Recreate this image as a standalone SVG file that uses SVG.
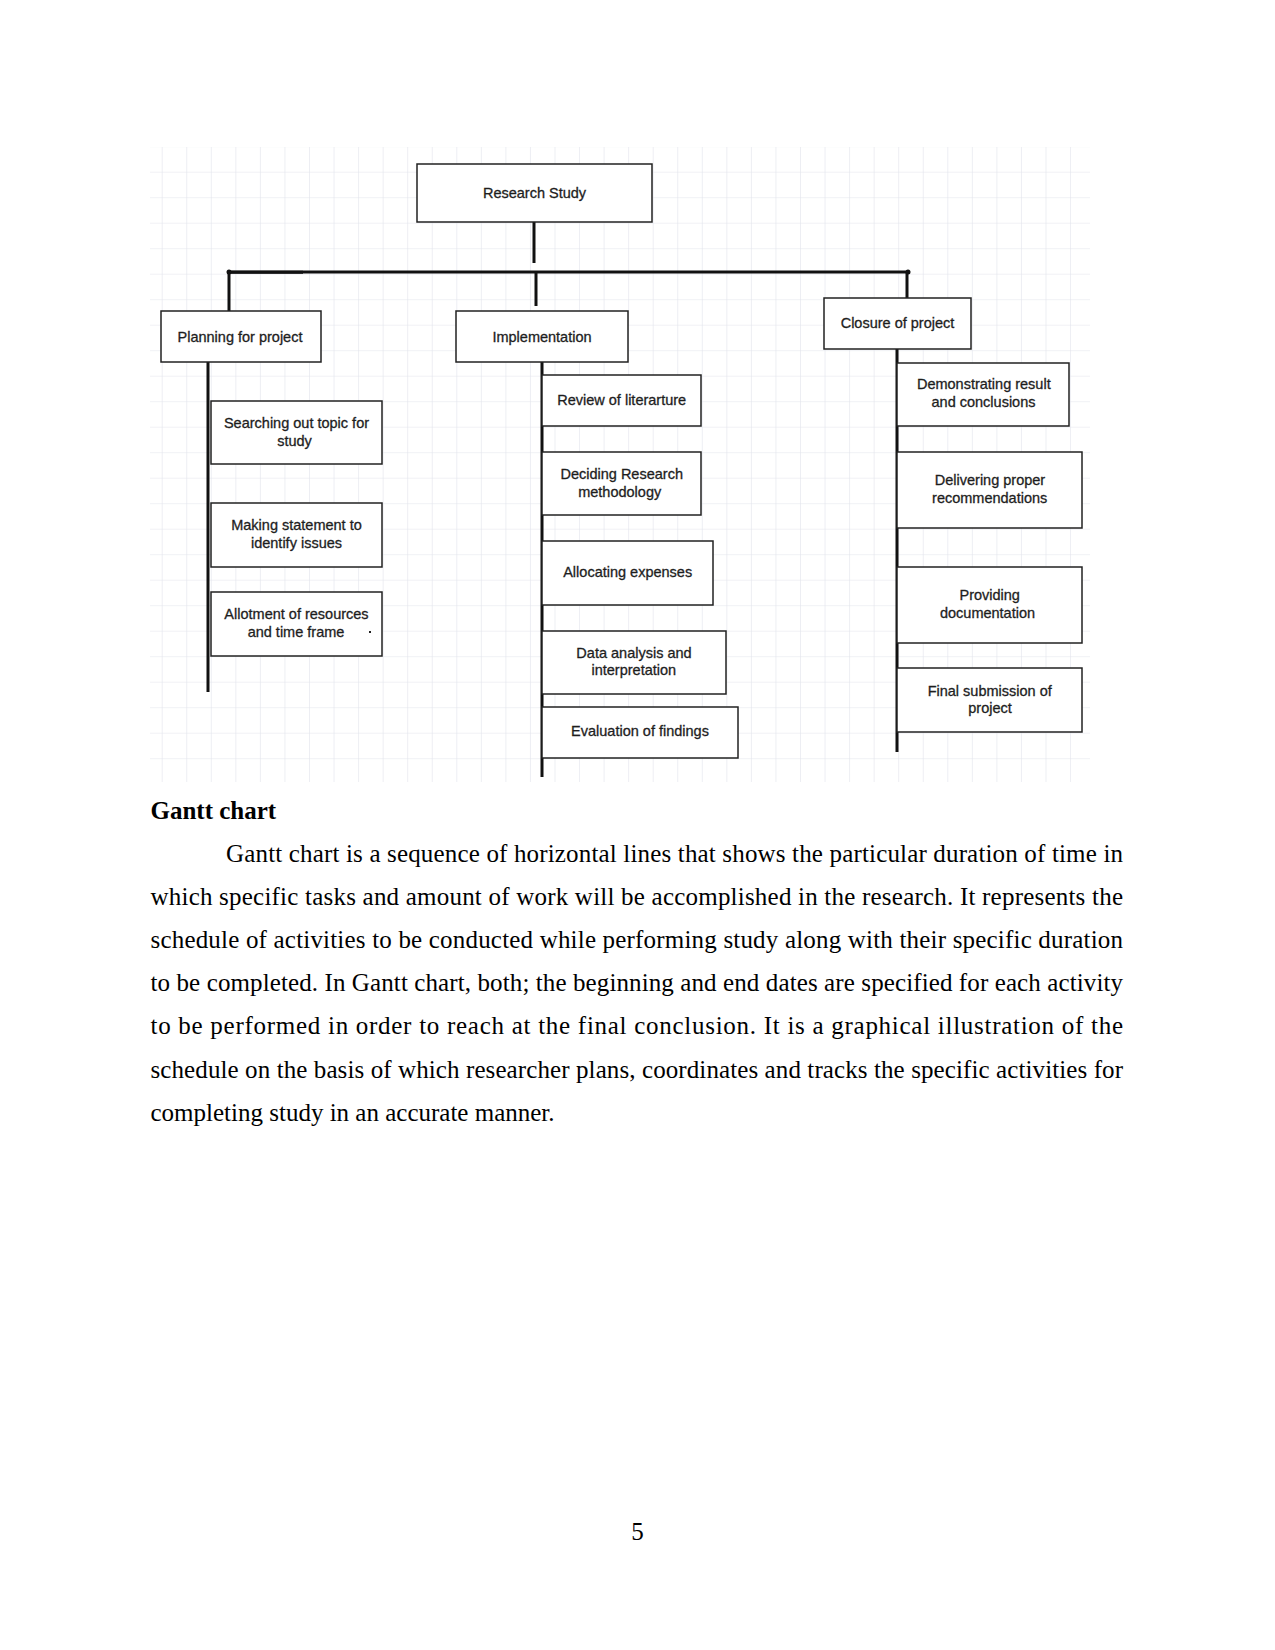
<svg xmlns="http://www.w3.org/2000/svg" width="1275" height="1650" viewBox="0 0 1275 1650">
  <style>
    .box { fill: #ffffff; stroke: #222222; stroke-width: 1.5; }
    .lbl { font-family: "Liberation Sans", Arial, sans-serif; font-size: 14.5px; fill: #1e1e1e; stroke: #1e1e1e; stroke-width: 0.3; text-anchor: middle; }
    .wire { stroke: #111111; stroke-width: 3; fill: none; }
    .body { font-family: "Liberation Serif", "Times New Roman", serif; font-size: 25px; fill: #000000; }
    .head { font-family: "Liberation Serif", "Times New Roman", serif; font-size: 25px; font-weight: bold; fill: #000000; }
  </style>
  <defs>
    <pattern id="grid" patternUnits="userSpaceOnUse" x="161.7" y="171.7" width="24.55" height="25.5">
      <path d="M0 0 V25.5 M0 0 H24.55" stroke="#e2e4ec" stroke-width="1.2" fill="none"/>
    </pattern>
  </defs>
  <rect x="0" y="0" width="1275" height="1650" fill="#ffffff"/>
  <rect id="grid-bg" x="150" y="147" width="940" height="635" fill="url(#grid)"/>

  <g id="connectors">
    <line class="wire" x1="534" y1="222" x2="534" y2="263"/>
    <line class="wire" x1="229" y1="272" x2="908" y2="272"/>
    <line class="wire" x1="229" y1="272.3" x2="303" y2="272.3" stroke-width="4"/>
    <circle cx="229" cy="272" r="2.5" fill="#111"/>
    <circle cx="908" cy="272" r="2.5" fill="#111"/>
    <line class="wire" x1="229" y1="272" x2="229" y2="311"/>
    <line class="wire" x1="536" y1="272" x2="536" y2="306"/>
    <line class="wire" x1="907" y1="272" x2="907" y2="298"/>
    <line class="wire" x1="208" y1="362" x2="208" y2="692"/>
    <line class="wire" x1="542" y1="362" x2="542" y2="777"/>
    <line class="wire" x1="897" y1="349" x2="897" y2="752"/>
  </g>

  <g id="research-study">
    <rect class="box" x="417" y="164" width="235" height="58"/>
    <text class="lbl" x="534.5" y="198">Research Study</text>
  </g>

  <g id="planning">
    <rect class="box" x="161" y="311" width="160" height="51"/>
    <text class="lbl" x="240" y="342">Planning for project</text>
  </g>
  <g id="implementation">
    <rect class="box" x="456" y="311" width="172" height="51"/>
    <text class="lbl" x="542" y="342">Implementation</text>
  </g>
  <g id="closure">
    <rect class="box" x="824" y="298" width="147" height="51"/>
    <text class="lbl" x="897.5" y="328">Closure of project</text>
  </g>

  <g id="searching">
    <rect class="box" x="211" y="401" width="171" height="63"/>
    <text class="lbl" x="296.5" y="427.5">Searching out topic for</text>
    <text class="lbl" x="294.5" y="445.5">study</text>
  </g>
  <g id="making">
    <rect class="box" x="211" y="503" width="171" height="64"/>
    <text class="lbl" x="296.5" y="530">Making statement to</text>
    <text class="lbl" x="296.5" y="547.5">identify issues</text>
  </g>
  <g id="allotment">
    <rect class="box" x="211" y="592" width="171" height="64"/>
    <text class="lbl" x="296.5" y="619">Allotment of resources</text>
    <text class="lbl" x="296" y="637">and time frame</text>
    <rect x="369" y="631" width="2" height="2" fill="#222"/>
  </g>

  <g id="review">
    <rect class="box" x="542" y="375" width="159" height="51"/>
    <text class="lbl" x="621.7" y="404.5">Review of literarture</text>
  </g>
  <g id="deciding">
    <rect class="box" x="542" y="452" width="159" height="63"/>
    <text class="lbl" x="621.7" y="479">Deciding Research</text>
    <text class="lbl" x="619.7" y="496.5">methodology</text>
  </g>
  <g id="allocating">
    <rect class="box" x="542" y="541" width="171" height="64"/>
    <text class="lbl" x="627.7" y="576.5">Allocating expenses</text>
  </g>
  <g id="data-analysis">
    <rect class="box" x="542" y="631" width="184" height="63"/>
    <text class="lbl" x="634" y="657.5">Data analysis and</text>
    <text class="lbl" x="633.8" y="675">interpretation</text>
  </g>
  <g id="evaluation">
    <rect class="box" x="542" y="707" width="196" height="51"/>
    <text class="lbl" x="640" y="736">Evaluation of findings</text>
  </g>

  <g id="demonstrating">
    <rect class="box" x="897" y="363" width="172" height="63"/>
    <text class="lbl" x="983.8" y="389.3">Demonstrating result</text>
    <text class="lbl" x="983.5" y="407">and conclusions</text>
  </g>
  <g id="delivering">
    <rect class="box" x="897" y="452" width="185" height="76"/>
    <text class="lbl" x="990" y="485.3">Delivering proper</text>
    <text class="lbl" x="989.7" y="503">recommendations</text>
  </g>
  <g id="providing">
    <rect class="box" x="897" y="567" width="185" height="76"/>
    <text class="lbl" x="989.7" y="600">Providing</text>
    <text class="lbl" x="987.5" y="617.7">documentation</text>
  </g>
  <g id="final">
    <rect class="box" x="897" y="668" width="185" height="64"/>
    <text class="lbl" x="989.7" y="695.7">Final submission of</text>
    <text class="lbl" x="990" y="713.3">project</text>
  </g>

  <g id="text-body">
    <text class="head" x="150.5" y="819">Gantt chart</text>
    <text class="body" x="226" y="862" textLength="897" lengthAdjust="spacing">Gantt chart is a sequence of horizontal lines that shows the particular duration of time in</text>
    <text class="body" x="150.5" y="905.1" textLength="972.5" lengthAdjust="spacing">which specific tasks and amount of work will be accomplished in the research. It represents the</text>
    <text class="body" x="150.5" y="948.2" textLength="972.5" lengthAdjust="spacing">schedule of activities to be conducted while performing study along with their specific duration</text>
    <text class="body" x="150.5" y="991.3" textLength="972.5" lengthAdjust="spacing">to be completed. In Gantt chart, both; the beginning and end dates are specified for each activity</text>
    <text class="body" x="150.5" y="1034.4" textLength="972.5" lengthAdjust="spacing">to be performed in order to reach at the final conclusion. It is a graphical illustration of the</text>
    <text class="body" x="150.5" y="1077.5" textLength="972.5" lengthAdjust="spacing">schedule on the basis of which researcher plans, coordinates and tracks the specific activities for</text>
    <text class="body" x="150.5" y="1120.7">completing study in an accurate manner.</text>
    <text class="body" x="637.5" y="1540" text-anchor="middle">5</text>
  </g>
</svg>
